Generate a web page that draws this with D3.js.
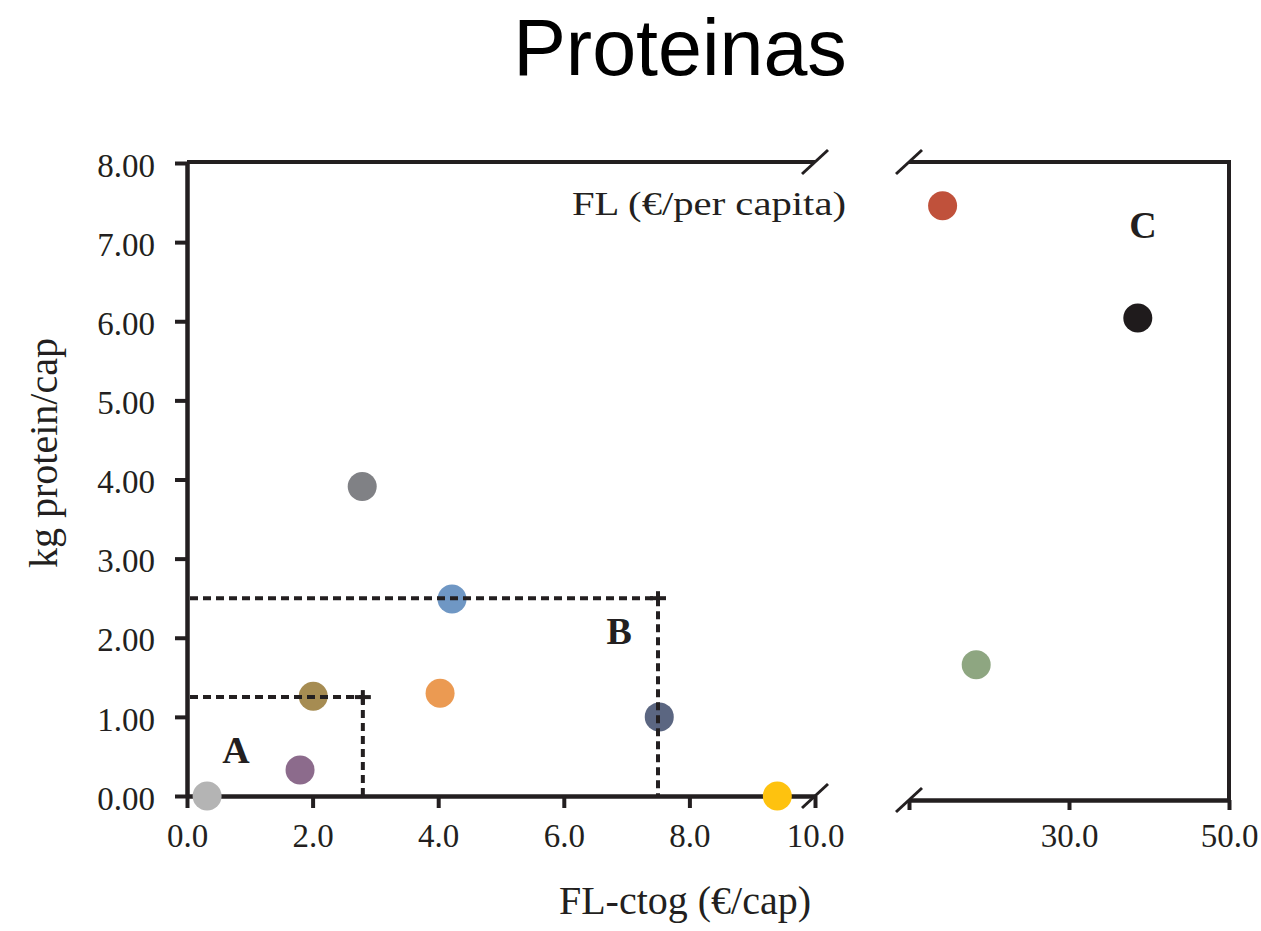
<!DOCTYPE html>
<html>
<head>
<meta charset="utf-8">
<script src="https://cdn.jsdelivr.net/npm/d3@7"></script>
<style>
  body { margin: 0; background: #fff; }
  text { fill: #231f20; }
</style>
</head>
<body>
<svg></svg>
<script>
// left panel (0 - 10 €/cap)
var leftX = [0.32, 1.80, 2.01, 2.79, 4.22, 4.03, 7.52, 9.40]
var leftY = [0.00, 0.33, 1.26, 3.91, 2.49, 1.30, 1.00, 0.00]
var leftColors = ['#b4b4b4', '#8c6b8c', '#a68c52', '#808185', '#6f97c4', '#eb9a52', '#5b6681', '#fec20f']
// right panel (after the axis break)
var rightX = [14.2, 38.6, 18.4]
var rightY = [7.46, 6.04, 1.66]
var rightColors = ['#c0513b', '#1f1b1c', '#8ea681']

var yTicks = [0, 1, 2, 3, 4, 5, 6, 7, 8]
var xTicksLeft = [0, 2, 4, 6, 8, 10]
var xTicksRight = [10, 30, 50]

// dashed boxes A and B
var boxes = [{ x: 2.8, y: 1.25 }, { x: 7.5, y: 2.5 }]
var zoneLabels = [{ text: 'A', x: 0.78, y: 0.42, panel: 'left' },
  { text: 'B', x: 6.88, y: 1.92, panel: 'left' },
  { text: 'C', x: 39.25, y: 7.05, panel: 'right' }]

var width = 1261
var height = 931
var serif = '"Liberation Serif", "Times New Roman", serif'
var ink = '#231f20'

var svg = d3.select('svg').attr('width', width).attr('height', height)

var y = d3.scaleLinear().domain([0, 8]).range([796, 163])
var xL = d3.scaleLinear().domain([0, 10]).range([187, 815])
var xR = d3.scaleLinear().domain([10, 50]).range([909, 1229])
var rightBottom = 800

function styleAxis(g) {
  g.select('.domain').attr('stroke', ink).attr('stroke-width', 4.5)
  g.selectAll('.tick line').attr('stroke', ink).attr('stroke-width', 4)
  g.selectAll('.tick text')
    .attr('font-family', serif)
    .attr('font-size', 33)
    .attr('fill', ink)
}

// title
svg.append('text')
  .attr('x', 680)
  .attr('y', 75)
  .attr('text-anchor', 'middle')
  .attr('font-family', '"Liberation Sans", Arial, sans-serif')
  .attr('font-size', 79)
  .style('fill', '#000')
  .text('Proteinas')

// left y axis
svg.append('g')
  .attr('transform', 'translate(' + xL(0) + ',0)')
  .call(d3.axisLeft(y).tickValues(yTicks).tickFormat(d3.format('.2f')).tickSize(12).tickSizeOuter(0).tickPadding(20))
  .call(styleAxis)
  .selectAll('.tick text').attr('dy', '0.4em')

// left x axis
svg.append('g')
  .attr('transform', 'translate(0,' + y(0) + ')')
  .call(d3.axisBottom(xL).tickValues(xTicksLeft).tickFormat(d3.format('.1f')).tickSize(12).tickSizeOuter(0).tickPadding(16))
  .call(styleAxis)

// right x axis
svg.append('g')
  .attr('transform', 'translate(0,' + rightBottom + ')')
  .call(d3.axisBottom(xR).tickValues(xTicksRight).tickFormat(function(d) {
    return d === 10 ? '' : d.toFixed(1)
  }).tickSize(10).tickSizeOuter(0).tickPadding(14))
  .call(styleAxis)

// frame lines
var frame = svg.append('g').attr('stroke', ink).attr('stroke-width', 4)
frame.append('line').attr('x1', xL(0)).attr('x2', xL(10)).attr('y1', y(8) - 1).attr('y2', y(8) - 1)
frame.append('line').attr('x1', xR(10)).attr('x2', xR(50) + 2).attr('y1', y(8) - 1).attr('y2', y(8) - 1)
frame.append('line').attr('x1', xR(50)).attr('x2', xR(50)).attr('y1', y(8) - 1).attr('y2', rightBottom)

// axis break marks
var breaks = [[xL(10), y(8) - 1], [xL(10), y(0)], [xR(10), y(8) - 1], [xR(10), rightBottom]]
svg.append('g')
  .selectAll('line')
  .data(breaks)
  .enter().append('line')
  .attr('x1', function(d) { return d[0] - 13 })
  .attr('y1', function(d) { return d[1] + 12 })
  .attr('x2', function(d) { return d[0] + 13 })
  .attr('y2', function(d) { return d[1] - 12 })
  .attr('stroke', ink)
  .attr('stroke-width', 3)

// points
svg.append('g')
  .selectAll('circle')
  .data(leftX)
  .enter().append('circle')
  .attr('cx', function(d) { return xL(d) })
  .attr('cy', function(d, i) { return y(leftY[i]) })
  .attr('r', 14.5)
  .attr('fill', function(d, i) { return leftColors[i] })

svg.append('g')
  .selectAll('circle')
  .data(rightX)
  .enter().append('circle')
  .attr('cx', function(d) { return xR(d) })
  .attr('cy', function(d, i) { return y(rightY[i]) })
  .attr('r', 14.5)
  .attr('fill', function(d, i) { return rightColors[i] })

// dashed boxes (drawn over the points, as in the original)
var dashes = svg.append('g').attr('stroke', ink).attr('stroke-width', 4).attr('stroke-dasharray', '8,5')
boxes.forEach(function(b) {
  dashes.append('line').attr('x1', xL(0) + 3).attr('x2', xL(b.x)).attr('y1', y(b.y)).attr('y2', y(b.y))
  dashes.append('line').attr('x1', xL(b.x)).attr('x2', xL(b.x)).attr('y1', y(b.y)).attr('y2', y(0))
})
var crosses = svg.append('g').attr('stroke', ink).attr('stroke-width', 4)
boxes.forEach(function(b) {
  crosses.append('line').attr('x1', xL(b.x) - 8).attr('x2', xL(b.x) + 8).attr('y1', y(b.y)).attr('y2', y(b.y))
  crosses.append('line').attr('x1', xL(b.x)).attr('x2', xL(b.x)).attr('y1', y(b.y) - 7).attr('y2', y(b.y) + 7)
})

// zone letters
svg.append('g')
  .selectAll('text')
  .data(zoneLabels)
  .enter().append('text')
  .attr('x', function(d) { return d.panel === 'left' ? xL(d.x) : xR(d.x) })
  .attr('y', function(d) { return y(d.y) })
  .attr('text-anchor', 'middle')
  .attr('font-family', serif)
  .attr('font-weight', 'bold')
  .attr('font-size', 38)
  .text(function(d) { return d.text })

// inner note
svg.append('text')
  .attr('x', 846)
  .attr('y', 215)
  .attr('text-anchor', 'end')
  .attr('font-family', serif)
  .attr('font-size', 33)
  .attr('textLength', 274)
  .attr('lengthAdjust', 'spacingAndGlyphs')
  .text('FL (€/per capita)')

// axis titles
svg.append('text')
  .attr('x', 685)
  .attr('y', 914)
  .attr('text-anchor', 'middle')
  .attr('font-family', serif)
  .attr('font-size', 40)
  .text('FL-ctog (€/cap)')

svg.append('text')
  .attr('transform', 'translate(57,453) rotate(-90)')
  .attr('text-anchor', 'middle')
  .attr('font-family', serif)
  .attr('font-size', 40)
  .text('kg protein/cap')
</script>
</body>
</html>
